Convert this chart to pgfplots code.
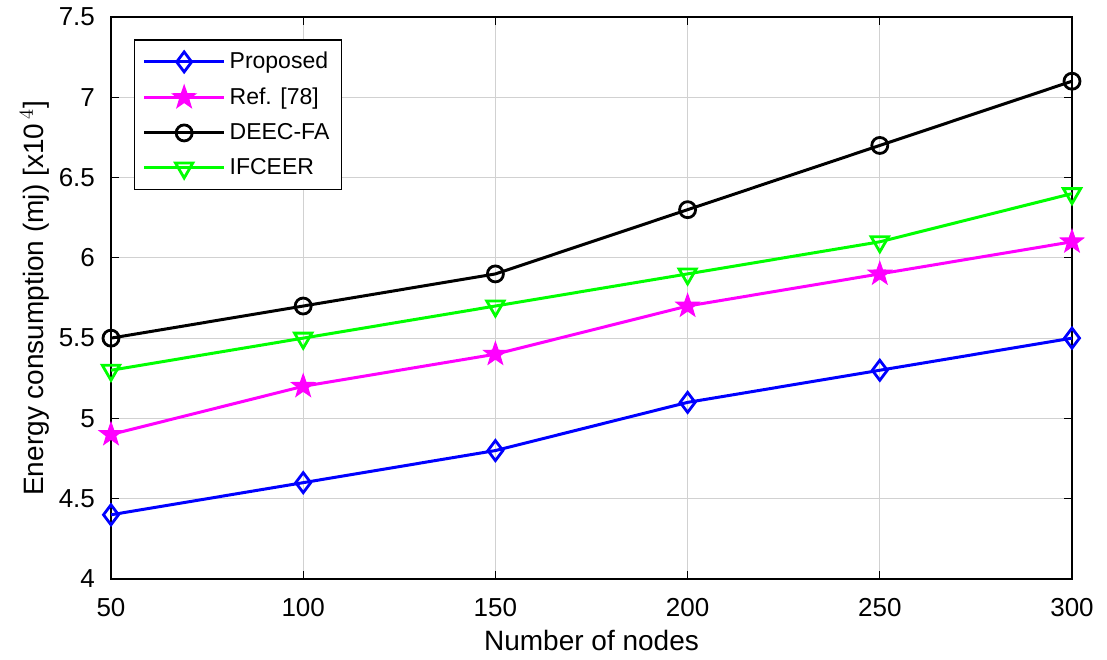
\documentclass[border=0pt]{standalone}
\usepackage{pgfplots}
\pgfplotsset{compat=1.18}
\usepackage{fontspec}
\setmainfont{Liberation Sans}
\usetikzlibrary{plotmarks}

\definecolor{cblue}{RGB}{0,0,255}
\definecolor{cmag}{RGB}{255,0,255}
\definecolor{cgreen}{RGB}{0,255,0}

% five-pointed filled star
\pgfdeclareplotmark{fstar}{%
  \pgfpathmoveto{\pgfqpointpolar{90}{\pgfplotmarksize}}%
  \pgfpathlineto{\pgfqpointpolar{126}{0.4\pgfplotmarksize}}%
  \pgfpathlineto{\pgfqpointpolar{162}{\pgfplotmarksize}}%
  \pgfpathlineto{\pgfqpointpolar{198}{0.4\pgfplotmarksize}}%
  \pgfpathlineto{\pgfqpointpolar{234}{\pgfplotmarksize}}%
  \pgfpathlineto{\pgfqpointpolar{270}{0.4\pgfplotmarksize}}%
  \pgfpathlineto{\pgfqpointpolar{306}{\pgfplotmarksize}}%
  \pgfpathlineto{\pgfqpointpolar{342}{0.4\pgfplotmarksize}}%
  \pgfpathlineto{\pgfqpointpolar{18}{\pgfplotmarksize}}%
  \pgfpathlineto{\pgfqpointpolar{54}{0.4\pgfplotmarksize}}%
  \pgfpathclose
  \pgfusepathqfillstroke
}

\pgfplotstableread{
x   prop  ref   deec  ifceer
50  4.4   4.9   5.5   5.3
100 4.6   5.2   5.7   5.5
150 4.8   5.4   5.9   5.7
200 5.1   5.7   6.3   5.9
250 5.3   5.9   6.7   6.1
300 5.5   6.1   7.1   6.4
}\energy

\begin{document}
\begin{tikzpicture}
\begin{axis}[
  scale only axis,
  width=480.5pt, height=281pt,
  xmin=50, xmax=300, ymin=4, ymax=7.5,
  xtick={50,100,...,300},
  ytick={4,4.5,...,7.5},
  /pgf/number format/assume math mode=true,
  /pgf/number format/fixed,
  tick label style={font=\fontsize{13}{15}\selectfont},
  xticklabel style={yshift=-6pt},
  yticklabel style={xshift=-4.5pt},
  label style={font=\fontsize{14}{16}\selectfont},
  xlabel={Number of nodes},
  ylabel={Energy consumption (mj) [x10\,$^{4}$]},
  ylabel style={yshift=-2pt},
  grid=major,
  major grid style={black!18, line width=0.6pt},
  tick align=inside,
  major tick length=4pt,
  axis line style={black, line width=0.6pt},
  every tick/.style={black},
  legend style={at={(0.024,0.96)}, anchor=north west, draw=black, line width=0.6pt,
    font=\fontsize{11.5}{13.5}\selectfont, row sep=4pt, inner sep=4pt},
  legend cell align=left,
  legend image code/.code={
    \draw[mark repeat=2, mark phase=2] plot coordinates {(0pt,0pt) (20pt,0pt) (40pt,0pt)};
  },
  every axis plot/.append style={line width=1.5pt},
]
\addplot[cblue, mark=diamond, mark size=5pt, mark options={solid, line width=1.4pt}] table[x=x, y=prop] {\energy};
\addlegendentry{Proposed}
\addplot[cmag, mark=fstar, mark size=6pt, mark options={solid, line width=0.6pt, fill=cmag}] table[x=x, y=ref] {\energy};
\addlegendentry{Ref. [78]}
\addplot[black, mark=o, mark size=4pt, mark options={solid, line width=1.4pt}] table[x=x, y=deec] {\energy};
\addlegendentry{DEEC-FA}
\addplot[cgreen, mark=triangle, mark size=5pt, mark options={solid, line width=1.4pt, rotate=180}] table[x=x, y=ifceer] {\energy};
\addlegendentry{IFCEER}
\coordinate (O) at (rel axis cs:0,0);
\coordinate (T) at (rel axis cs:1,1);
\end{axis}
% fix the page margins around the plot area
\pgfresetboundingbox
\path ([shift={(-55.5pt,-40pt)}]O) rectangle ([shift={(17.5pt,8.5pt)}]T);
\end{tikzpicture}
\end{document}
